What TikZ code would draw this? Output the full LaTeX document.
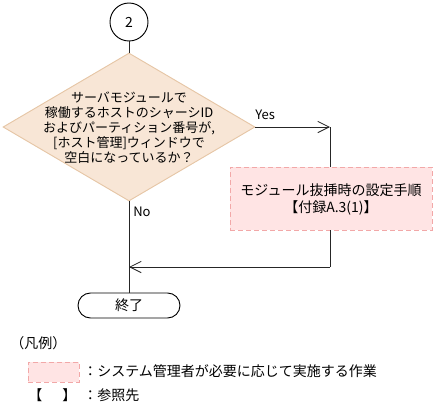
\documentclass[tikz,border=0pt]{standalone}
\usepackage{fontspec}
\setmainfont{Noto Sans CJK JP}
\usetikzlibrary{shapes.geometric,shapes.misc,arrows.meta}
\definecolor{decfill}{HTML}{F8E6D6}
\definecolor{decline}{HTML}{E6C6A6}
\definecolor{optfill}{HTML}{FFE4E4}
\definecolor{optline}{HTML}{F2A8A8}
\tikzset{
  conn/.style={draw=black!85, line width=0.7pt},
  tip/.style={-{Straight Barb[length=8.5pt,width=8.5pt,line width=0.6pt]}},
  txt/.style={font=\fontsize{9.75pt}{11.25pt}\selectfont, inner sep=0pt},
  txtb/.style={font=\fontsize{10.5pt}{12.75pt}\selectfont, inner sep=0pt},
  decision/.style={diamond, draw=decline, fill=decfill, line width=0.7pt, inner sep=0pt, minimum width=189pt, minimum height=111pt},
  optbox/.style={rectangle, draw=optline, fill=optfill, dashed, dash pattern=on 4pt off 2pt, line width=0.7pt, inner sep=0pt},
  terminal/.style={rounded rectangle, draw=black, line width=0.7pt, minimum width=76.5pt, minimum height=18.75pt, inner sep=0pt},
  connector/.style={circle, draw=black, line width=0.7pt, minimum size=28.5pt, inner sep=0pt}
}
\begin{document}
\begin{tikzpicture}[x=0.75pt,y=-0.75pt]
\useasboundingbox (0,0) rectangle (435,408);
\node[connector, txtb] (c2) at (129,22) {2};
\node[decision] (d) at (129,127) {};
\node[txt, align=center] (dt) at (129,127.5) {サーバモジュールで\\稼働するホストのシャーシID\\およびパーティション番号が,\\{[}ホスト管理{]}ウィンドウで\\空白になっているか？};
\node[optbox, minimum width=151.5pt, minimum height=47.25pt] (opt) at (331,198.5) {};
\node[txtb, align=center] (optt) at (331,199) {モジュール抜挿時の設定手順\\【付録A.3(1)】};
\node[terminal, txtb] (end) at (129,305.5) {終了};
\coordinate (cyes) at (330,127);
\coordinate (cret) at (330,267);
\coordinate (merge) at (129,267);
\node[txt, anchor=west] (yes) at (255,115) {Yes};
\node[txt, anchor=west] (no) at (133,212) {No};
\draw[conn] (c2) -- (d.north);
\draw[conn, tip] (d.east) -- (cyes);
\draw[conn] (cyes) -- (opt.north -| cyes);
\draw[conn] (opt.south -| cret) -- (cret);
\draw[conn, tip] (cret) -- (merge);
\draw[conn] (d.south) -- (end.north);
% legend
\node[txtb, anchor=west] (lg) at (10,343) {（凡例）};
\node[optbox, minimum width=38.25pt, minimum height=15pt] (lgbox) at (53.5,372) {};
\node[txtb, anchor=west] (lgt1) at (83,371) {：システム管理者が必要に応じて実施する作業};
\node[txtb, anchor=west] (lgb1) at (28,395) {【};
\node[txtb, anchor=west] (lgb2) at (62,395) {】};
\node[txtb, anchor=west] (lgt2) at (83,395) {：参照先};
\end{tikzpicture}
\end{document}
